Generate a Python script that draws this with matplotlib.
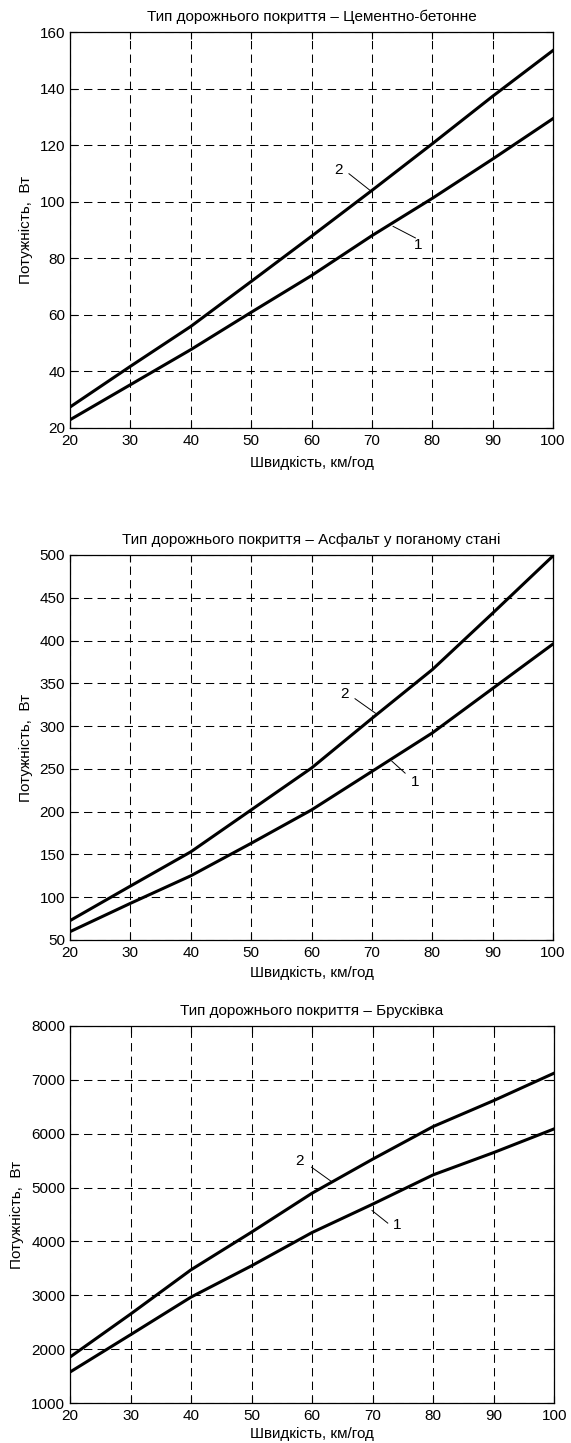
import numpy as np
import matplotlib.pyplot as plt

plt.rcParams['font.family'] = ['Liberation Sans', 'DejaVu Sans']

speed = [20, 30, 40, 50, 60, 70, 80, 90, 100]

# Цементно-бетонне
concrete_1 = [22.9, 35.3, 47.7, 60.9, 73.9, 88.0, 101.2, 115.1, 129.4]
concrete_2 = [27.4, 41.8, 55.9, 71.8, 87.8, 104.0, 120.5, 137.3, 153.5]

# Асфальт у поганому стані
asphalt_1 = [59.7, 92.8, 125.0, 163.0, 202.0, 247.0, 292.0, 344.0, 396.0]
asphalt_2 = [72.6, 113.0, 153.0, 202.0, 251.0, 309.0, 366.0, 432.0, 499.0]

# Бруківка
paving_1 = [1575, 2268, 2967, 3548, 4166, 4692, 5236, 5650, 6090]
paving_2 = [1853, 2651, 3474, 4173, 4896, 5527, 6133, 6615, 7125]

titles = [
    'Тип дорожнього покриття – Цементно-бетонне',
    'Тип дорожнього покриття – Асфальт у поганому стані',
    'Тип дорожнього покриття – Брусківка',
]
ylims = [(20, 160), (50, 500), (1000, 8000)]
ysteps = [20, 50, 1000]
# (label, text xy, line start, line end)
notes = [
    [('2', (64.5, 111.3), (66.2, 109.9), (69.7, 104.0)),
     ('1', (77.7, 84.8), (77.2, 87.2), (73.5, 91.3))],
    [('2', (65.4, 338), (67.2, 332), (70.6, 315)),
     ('1', (77.2, 235), (75.5, 245), (73.3, 259))],
    [('2', (57.9, 5496), (59.9, 5378), (63.2, 5112)),
     ('1', (74.1, 4296), (72.5, 4340), (69.9, 4574))],
]
series = [(concrete_1, concrete_2), (asphalt_1, asphalt_2), (paving_1, paving_2)]

fig = plt.figure(figsize=(5.71, 14.43), dpi=100)
boxes = [
    [0.1226, 0.7034, 0.846, 0.2744],
    [0.1226, 0.3486, 0.846, 0.2668],
    [0.1226, 0.0277, 0.848, 0.2613],
]
xlabelpads = [6, 5, 3]

for i in range(3):
    ax = fig.add_axes(boxes[i])
    y1, y2 = series[i]
    ax.plot(speed, y1, color='black', lw=2.2)
    ax.plot(speed, y2, color='black', lw=2.2)
    ax.set_xlim(20, 100)
    ax.set_ylim(*ylims[i])
    ax.set_xticks(np.arange(20, 101, 10))
    ax.set_yticks(np.arange(ylims[i][0], ylims[i][1] + 1, ysteps[i]))
    ax.grid(True, color='black', linestyle=(0, (8, 5)), lw=0.75)
    ax.tick_params(direction='in', top=True, right=True, labelsize=11, length=5)
    ax.tick_params(axis='x', pad=4)
    ax.tick_params(axis='y', pad=3.5)
    for s in ax.spines.values():
        s.set_linewidth(0.9)
    ax.set_title(titles[i], fontsize=11, pad=8)
    ax.set_xlabel('Швидкість, км/год', fontsize=11, labelpad=xlabelpads[i])
    ax.set_ylabel('Потужність,  Вт', fontsize=11, labelpad=5)
    for lab, txy, p0, p1 in notes[i]:
        ax.text(txy[0], txy[1], lab, fontsize=11, ha='center', va='center')
        ax.plot([p0[0], p1[0]], [p0[1], p1[1]], color='black', lw=0.7)

fig.savefig('out.png', dpi=100)
